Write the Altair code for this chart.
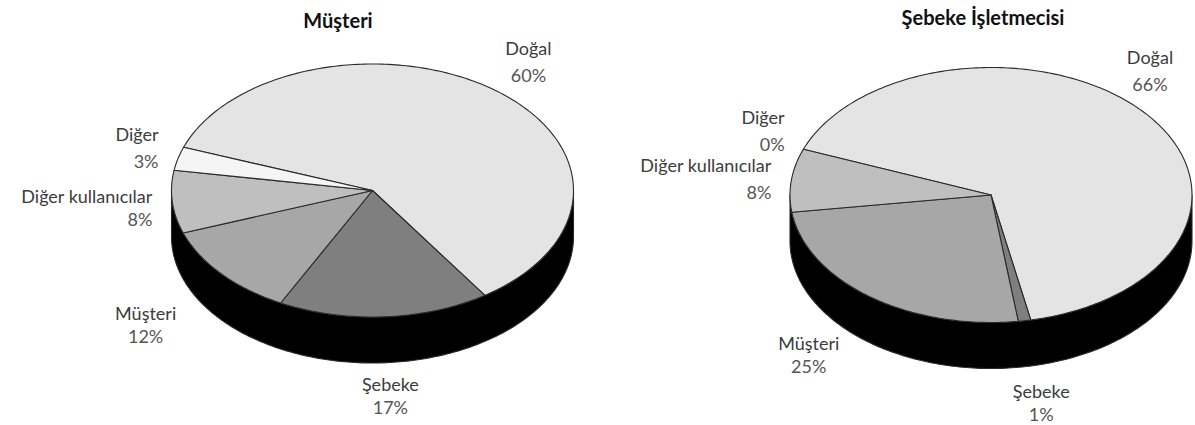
import numpy as np
import pandas as pd
import altair as alt

# ---------------- data ----------------
PIE_TITLES = ["Müşteri", "Şebeke İşletmecisi"]
SLICE_NAMES = ["Doğal", "Şebeke", "Müşteri", "Diğer kullanıcılar", "Diğer"]
MUSTERI_SHARE = [60, 17, 12, 8, 3]
SEBEKE_ISLETMECISI_SHARE = [66, 1, 25, 8, 0]
SHARES = [MUSTERI_SHARE, SEBEKE_ISLETMECISI_SHARE]

# ---------------- style / layout ----------------
SLICE_COLORS = ["#e4e4e4", "#7f7f7f", "#a7a7a7", "#bfbfbf", "#f5f5f5"]
SIDE_COLOR = "#000000"
W, H = 1195, 425
CENTERS = [(372.5, 190.5), (991.0, 195.0)]
RADII = [(201.0, 126.5), (201.0, 127.5)]
DEPTH = 46.0
START_ANGLE = [160.0, 159.0]      # degrees, slices run clockwise
TITLE_ANCHORS = [(338, 22), (983, 19)]
LABEL_KX_UPPER = 1.26
LABEL_KX_LOWER = 1.5
LABEL_KX_SIDE = 1.1
LABEL_KY = 1.1
GAP_UPPER = 27
GAP_LOWER = 23
MIN_SEP = 48
EDGE_MARGIN = 45
FONT = "Lato"
FONT_SIZE = 18


def ell(cx, cy, rx, ry, t_deg, dy=0.0):
    t = np.radians(t_deg)
    return cx + rx * np.cos(t), cy - ry * np.sin(t) + dy


features = []
label_rows = []
title_rows = []

for i, (title, shares) in enumerate(zip(PIE_TITLES, SHARES)):
    cx, cy = CENTERS[i]
    rx, ry = RADII[i]
    # side (extrusion) of the tilted pie
    ts = np.linspace(180, 360, 181)
    top = [ell(cx, cy, rx, ry, t) for t in ts]
    bot = [ell(cx, cy, rx, ry, t, DEPTH) for t in ts[::-1]]
    ring = [[round(x, 2), round(y, 2)] for x, y in top + bot]
    ring.append(ring[0])
    features.append({"type": "Feature", "properties": {"pie": title, "part": "side"},
                     "geometry": {"type": "Polygon", "coordinates": [ring]}})

    a = START_ANGLE[i]
    labs = []
    for name, v in zip(SLICE_NAMES, shares):
        span = v * 3.6
        if span > 0:
            n = max(3, int(span) + 2)
            pts = [ell(cx, cy, rx, ry, t) for t in np.linspace(a, a - span, n)]
            ring = [[cx, cy]] + [[round(x, 2), round(y, 2)] for x, y in pts] + [[cx, cy]]
            features.append({"type": "Feature", "properties": {"pie": title, "part": name},
                             "geometry": {"type": "Polygon", "coordinates": [ring]}})
        m = np.radians(a - span / 2)
        a -= span
        c, s = np.cos(m), np.sin(m)
        if abs(c) >= 0.8:
            align = "right" if c < 0 else "left"
            kx = LABEL_KX_SIDE
        else:
            align = "center"
            kx = LABEL_KX_LOWER if s < 0 else LABEL_KX_UPPER
        px = cx + kx * rx * c
        if align == "center":
            px = min(px, W - EDGE_MARGIN)
        py = cy - LABEL_KY * ry * s + DEPTH * max(0.0, -s)
        yc = py - 22 * s
        gap = GAP_UPPER if s > 0 else GAP_LOWER
        half_h = gap / 2 + FONT_SIZE / 2
        # keep an upper centred label clear of the top face
        if s > 0 and align == "center":
            half_w = max(len(name), 4) * FONT_SIZE * 0.26
            corner_x = px - half_w if c > 0 else px + half_w
            u = np.clip((corner_x - cx) / rx, -1, 1)
            edge_y = cy - ry * np.sqrt(1 - u * u)
            yc = min(yc, edge_y - 6 - half_h)
        yc = min(yc, H - 3 - half_h)
        labs.append({"name": name, "pct": f"{v}%", "x": px, "yc": yc, "align": align, "gap": gap})

    # simple collision resolution among labels with the same alignment
    for al in ["left", "right", "center"]:
        grp = sorted([l for l in labs if l["align"] == al], key=lambda d: d["yc"])
        for j in range(1, len(grp)):
            dgap = grp[j]["yc"] - grp[j - 1]["yc"]
            if dgap < MIN_SEP:
                d = (MIN_SEP - dgap) / 2
                grp[j - 1]["yc"] -= d
                grp[j]["yc"] += d
    for l in labs:
        label_rows.append({"lon": l["x"], "lat": l["yc"] - l["gap"] / 2, "text": l["name"],
                           "kind": "name", "align": l["align"]})
        label_rows.append({"lon": l["x"], "lat": l["yc"] + l["gap"] / 2, "text": l["pct"],
                           "kind": "pct", "align": l["align"]})
    title_rows.append({"lon": TITLE_ANCHORS[i][0], "lat": TITLE_ANCHORS[i][1], "text": title})

labels_df = pd.DataFrame(label_rows)
titles_df = pd.DataFrame(title_rows)

pies = alt.Chart(alt.Data(values=features)).mark_geoshape(
    stroke="#2a2a2a", strokeWidth=1.1, strokeJoin="round"
).encode(
    fill=alt.Fill("properties.part:N",
                  scale=alt.Scale(domain=SLICE_NAMES + ["side"], range=SLICE_COLORS + [SIDE_COLOR]),
                  legend=None)
)


def text_layer(al):
    return alt.Chart(labels_df).transform_filter(alt.datum.align == al).mark_text(
        align=al, baseline="middle", font=FONT, fontSize=FONT_SIZE
    ).encode(
        longitude="lon:Q",
        latitude="lat:Q",
        text="text:N",
        color=alt.Color("kind:N", scale=alt.Scale(domain=["name", "pct"], range=["#3c3c3c", "#555555"]),
                        legend=None),
    )


titles = alt.Chart(titles_df).mark_text(
    align="center", baseline="middle", font=FONT, fontSize=20, fontWeight="bold", color="#111111"
).encode(longitude="lon:Q", latitude="lat:Q", text="text:N")

chart = alt.layer(
    pies, text_layer("left"), text_layer("right"), text_layer("center"), titles
).project(
    type="identity", scale=1, translate=[0, 0]
).properties(
    width=W, height=H, padding=0, background="white",
    autosize=alt.AutoSizeParams(type="none")
).configure_view(strokeWidth=0)

chart.save("out.html", embed_options={"renderer": "svg", "actions": False})
